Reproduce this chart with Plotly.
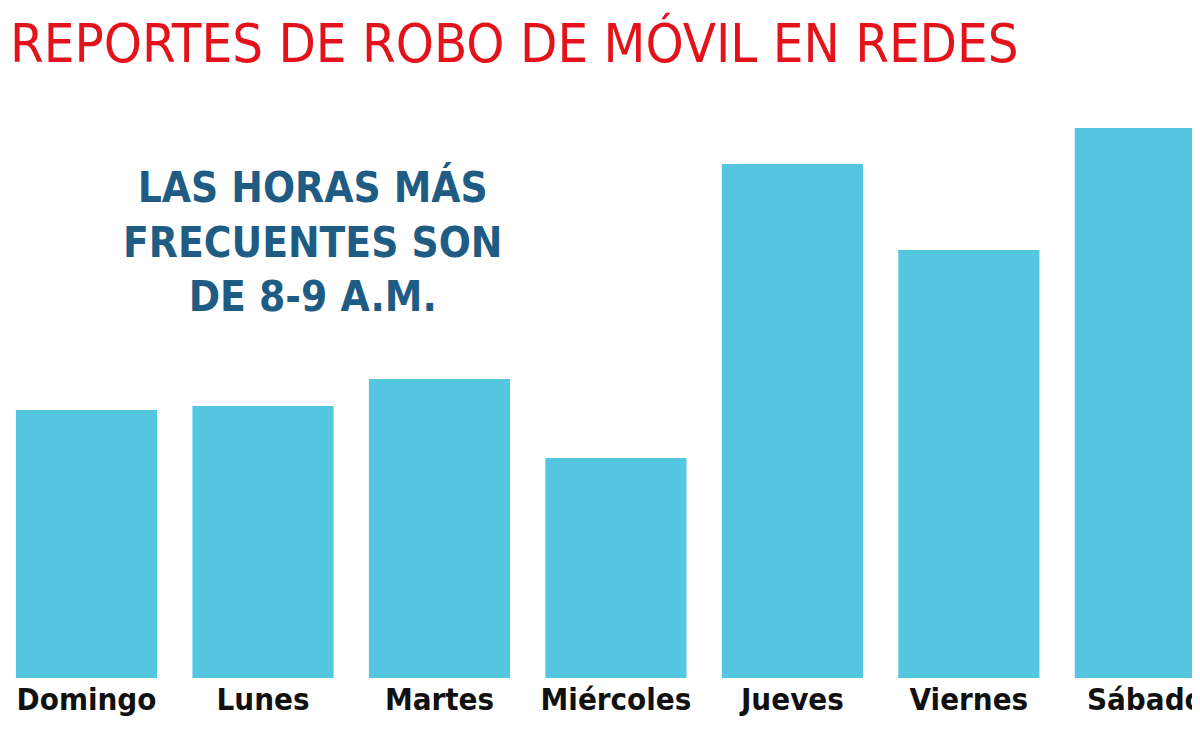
import plotly.graph_objects as go

days = ["Domingo", "Lunes", "Martes", "Miércoles", "Jueves", "Viernes", "Sábado"]
reports = [268, 272, 299, 220, 514, 428, 550]

cond = "Liberation Sans Narrow, DejaVu Sans Condensed, Roboto"
fig = go.Figure(go.Bar(x=days, y=reports, marker_color="#55c6df", marker_line_width=0))
fig.update_layout(
    width=1200, height=735, plot_bgcolor="white", paper_bgcolor="white",
    margin=dict(l=0, r=0, t=92, b=65), bargap=0.2, showlegend=False,
    xaxis=dict(range=[-0.445, 6.355], showgrid=False, showline=False, ticks="",
               tickfont=dict(family=cond, size=31, color="#111"),
               tickprefix="<b>", ticksuffix="</b>", fixedrange=True),
    yaxis=dict(range=[0, 578], visible=False),
    annotations=[
        dict(text="REPORTES DE ROBO DE MÓVIL EN REDES", xref="paper", yref="paper",
             x=0.0, y=1, yshift=90, xanchor="left", yanchor="top", showarrow=False,
             font=dict(family=cond, size=54, color="#e3131b")),
        dict(text="<b>LAS HORAS MÁS<br>FRECUENTES SON<br>DE 8-9 A.M.</b>", xref="paper", yref="paper",
             x=305/1200, y=(578-60)/578, xanchor="center", yanchor="top", showarrow=False,
             align="center",
             font=dict(family=cond, size=42, color="#1f5c84")),
    ],
)
fig.write_html("out.html")
